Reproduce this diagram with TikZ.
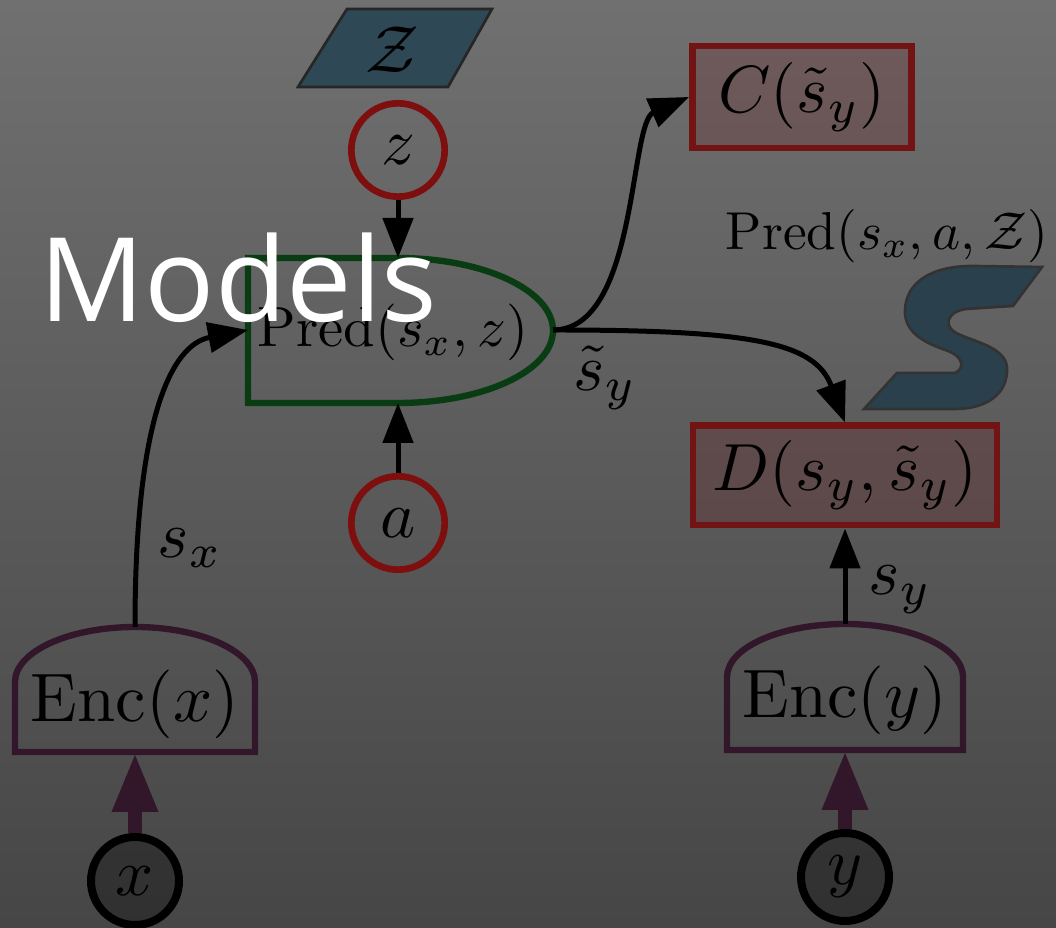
\documentclass[tikz,border=0pt]{standalone}
\usepackage{fontspec}
\newfontfamily\modelsfont{Open Sans}
\usetikzlibrary{arrows.meta}
\definecolor{bgtop}{RGB}{112,112,112}
\definecolor{bgbot}{RGB}{70,70,70}
\definecolor{cred}{RGB}{125,15,15}
\definecolor{cbox}{RGB}{115,20,20}
\definecolor{cboxf}{RGB}{110,10,10}
\definecolor{cgreen}{RGB}{10,60,20}
\definecolor{cpur}{RGB}{50,22,42}
\definecolor{cteal}{RGB}{46,72,86}
\definecolor{cteals}{RGB}{42,64,76}
\begin{document}
\begin{tikzpicture}[x=0.15pt,y=-0.15pt,
  lab/.style={inner sep=0pt, text=black},
  redc/.style={circle, draw=cred, line width=1pt, minimum size=14pt, inner sep=0pt},
  obsc/.style={circle, draw=black, fill=black, fill opacity=0.3, draw opacity=1, text opacity=1, line width=1.2pt, minimum size=13.2pt, inner sep=0pt},
  cost/.style={draw=cbox, fill=cboxf, fill opacity=0.2, draw opacity=1, text opacity=1, line width=1pt, inner sep=0pt},
  arr/.style={line width=0.75pt, -{Triangle[length=6pt,width=4.5pt]}},
  parr/.style={draw=cpur, line width=2.2pt, -{Triangle[length=9pt,width=6.3pt]}}]
\useasboundingbox (0,0) rectangle (1056,928);
\shade[top color=bgtop, bottom color=bgbot] (0,0) rectangle (1056,928);

% set Z
\draw[fill=cteal, draw=black!85, line width=0.4pt] (347,9) -- (492,9) -- (448,87) -- (298,87) -- cycle;
\node[lab] (Zset) at (392,50) {$\mathcal{Z}$};

% S shape
\draw[fill=cteals, draw=black!80, line width=0.4pt]
  (1042,267) -- (1013,306) -- (966,309)
  .. controls (950,311) and (944,322) .. (952,330)
  .. controls (962,340) and (1006,344) .. (1007,368)
  .. controls (1008,395) and (985,409) .. (955,409)
  -- (864,409) -- (897,373) -- (955,373)
  .. controls (966,368) and (962,356) .. (948,351)
  .. controls (925,343) and (904,333) .. (905,310)
  .. controls (906,282) and (932,266) .. (972,266) -- cycle;

% circles
\node[redc] (z) at (398,150) {$z$};
\node[redc] (a) at (398,523) {$a$};
\node[obsc] (x) at (135,881) {$x$};
\node[obsc] (y) at (845,877) {$y$};

% predictor
\draw[draw=cgreen, line width=0.95pt] (248,258) -- (398,258)
  arc[start angle=-90, end angle=90, x radius=155, y radius=72.5] -- (248,403) -- cycle;
\coordinate (predT) at (398,258);
\coordinate (predB) at (398,403);
\coordinate (predW) at (248,330);
\coordinate (predE) at (553,330);
\node[lab, anchor=base, scale=0.85] (predlab) at (393,347) {$\mathrm{Pred}(s_x, z)$};

% encoders
\draw[draw=cpur, line width=0.95pt] (15,752) -- (15,682)
  arc[start angle=180, end angle=360, x radius=120, y radius=55] -- (255,752) -- cycle;
\coordinate (encxT) at (135,627);
\coordinate (encxB) at (135,752);
\node[lab, anchor=base, scale=1.03] (encxlab) at (135,722) {$\mathrm{Enc}(x)$};
\draw[draw=cpur, line width=0.95pt] (727,750) -- (727,677)
  arc[start angle=180, end angle=360, x radius=118, y radius=53] -- (963,750) -- cycle;
\coordinate (encyT) at (845,624);
\coordinate (encyB) at (845,750);
\node[lab, anchor=base, scale=1.03] (encylab) at (845,718) {$\mathrm{Enc}(y)$};

% cost boxes
\node[cost, minimum width=32.9pt, minimum height=15.3pt] (C) at (802,97) {$C(\tilde{s}_y)$};
\node[cost, minimum width=45.6pt, minimum height=14.9pt] (D) at (845,475.5) {$D(s_y, \tilde{s}_y)$};

\node[lab, anchor=base, scale=0.8] (predall) at (887,250) {$\mathrm{Pred}(s_x, a, \mathcal{Z})$};

% connectors
\draw[arr] (z) -- (predT);
\draw[arr] (a) -- (predB);
\draw[arr] (encxT) .. controls +(0,-205) and +(-78,15) .. (predW);
\draw[arr] (predE) .. controls +(85,0) and +(-60,26) .. (C.west);
\draw[arr] (predE) .. controls +(200,0) and +(-30,-80) .. (D.north);
\draw[arr] (encyT) -- (D.south);
\draw[parr] (x) -- (encxB);
\draw[parr] (y) -- (encyB);

% edge labels
\node[lab] (sx) at (190,548) {$s_x$};
\node[lab] (sy) at (900,590) {$s_y$};
\node[lab] (sty) at (605,378) {$\tilde{s}_y$};

% overlay title
\node[anchor=base west, inner sep=0pt, text=white, font=\modelsfont\fontsize{17.5}{20}\selectfont] (title) at (38,322) {Models};
\end{tikzpicture}
\end{document}
